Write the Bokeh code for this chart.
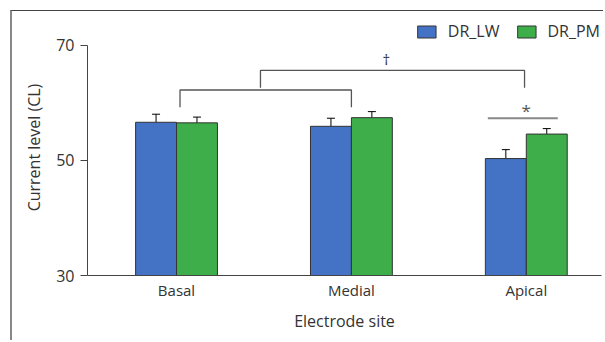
from bokeh.plotting import figure
from bokeh.models import (ColumnDataSource, Whisker, TeeHead, Legend, LegendItem,
                          FixedTicker, Range1d)
from bokeh.layouts import column
from bokeh.embed import file_html
from bokeh.resources import INLINE
from bokeh.core.properties import value

# ---- data ----
sites = ["Basal", "Medial", "Apical"]
series_names = ["DR_LW", "DR_PM"]
dr_lw = [56.6, 55.9, 50.3]
dr_lw_err = [1.4, 1.4, 1.55]
dr_pm = [56.5, 57.4, 54.55]
dr_pm_err = [1.0, 1.05, 0.95]
y_ticks = [30, 50, 70]

# significance annotations (data units)
bracket1_x = [0.02, 0.02, 1.0, 1.0]
bracket1_y = [59.2, 62.2, 62.2, 59.2]
bracket2_x = [0.48, 0.48, 1.99, 1.99]
bracket2_y = [62.6, 65.6, 65.6, 62.6]
star_line_x = [1.78, 2.18]
star_line_y = [57.3, 57.3]
dagger_pos = (1.2, 67.5)
star_pos = (2.0, 58.6)

FONT = "Open Sans"
TXT = "#333333"
BLUE = "#4472C4"
GREEN = "#3DAE4A"

xs = list(range(len(sites)))
bw = 0.234
x_lw = [x - bw / 2 for x in xs]
x_pm = [x + bw / 2 for x in xs]

src_lw = ColumnDataSource(dict(x=x_lw, top=dr_lw,
                               lo=[v - e for v, e in zip(dr_lw, dr_lw_err)],
                               hi=[v + e for v, e in zip(dr_lw, dr_lw_err)]))
src_pm = ColumnDataSource(dict(x=x_pm, top=dr_pm,
                               lo=[v - e for v, e in zip(dr_pm, dr_pm_err)],
                               hi=[v + e for v, e in zip(dr_pm, dr_pm_err)]))

p = figure(width=591, height=329, output_backend="svg", toolbar_location=None,
           x_range=Range1d(-0.509, 2.43), y_range=Range1d(30, 74.44),
           min_border_left=75, min_border_right=2, min_border_top=8,
           min_border_bottom=65)
p.outline_line_color = None
p.xgrid.grid_line_color = None
p.ygrid.grid_line_color = None
p.background_fill_color = "white"
p.border_fill_color = "white"

r_lw = p.vbar(x="x", top="top", bottom=30, width=bw, source=src_lw,
              fill_color=BLUE, line_color="#333333", line_width=1)
r_pm = p.vbar(x="x", top="top", bottom=30, width=bw, source=src_pm,
              fill_color=GREEN, line_color="#333333", line_width=1)

for src in (src_lw, src_pm):
    w = Whisker(source=src, base="x", lower="lo", upper="hi",
                line_color="black", line_width=1,
                upper_head=TeeHead(size=8, line_color="black", line_width=1),
                lower_head=TeeHead(size=8, line_color="black", line_width=1))
    p.add_layout(w)

# brackets
p.line(bracket1_x, bracket1_y, line_color="#555555", line_width=1.3)
p.line(bracket2_x, bracket2_y, line_color="#555555", line_width=1.3)
p.line(star_line_x, star_line_y, line_color="#888888", line_width=2)
p.text(x=[dagger_pos[0]], y=[dagger_pos[1]], text=["\u2020"], text_font=value(FONT),
       text_font_size="15px", text_color=TXT, text_align="center",
       text_baseline="middle")
p.text(x=[star_pos[0]], y=[star_pos[1]], text=["*"], text_font=value(FONT),
       text_font_size="17px", text_color="#555555", text_align="center",
       text_baseline="middle")

# axes
p.yaxis.ticker = FixedTicker(ticks=y_ticks)
p.yaxis.bounds = (30, 70)
p.yaxis.axis_label = "Current level (CL)"
p.yaxis.minor_tick_line_color = None
p.yaxis.major_tick_out = 7
p.yaxis.major_tick_in = 0
p.yaxis.major_label_standoff = 6
p.yaxis.axis_label_standoff = 8

p.xaxis.ticker = FixedTicker(ticks=xs)
p.xaxis.major_label_overrides = {i: s for i, s in enumerate(sites)}
p.xaxis.axis_label = "Electrode site"
p.xaxis.major_tick_line_color = None
p.xaxis.minor_tick_line_color = None
p.xaxis.major_tick_out = 0
p.xaxis.major_tick_in = 0
p.xaxis.major_label_standoff = 4
p.xaxis.axis_label_standoff = 7

for ax in (p.xaxis[0], p.yaxis[0]):
    ax.axis_line_color = "#444444"
    ax.axis_line_width = 1
    ax.major_label_text_font = FONT
    ax.major_label_text_color = TXT
    ax.major_label_text_font_size = "15px"
    ax.axis_label_text_font = FONT
    ax.axis_label_text_color = TXT
    ax.axis_label_text_font_size = "16px"
    ax.axis_label_text_font_style = "normal"
p.yaxis.major_tick_line_color = "#444444"
p.yaxis.major_label_text_font_size = "16px"

legend = Legend(items=[LegendItem(label=series_names[0], renderers=[r_lw]),
                       LegendItem(label=series_names[1], renderers=[r_pm])],
                orientation="horizontal", location="top_right",
                border_line_color=None, background_fill_alpha=0,
                glyph_width=23, glyph_height=15, label_standoff=10,
                spacing=15, padding=2, margin=1,
                label_text_font=FONT, label_text_font_size="16px",
                label_text_color=TXT)
p.add_layout(legend)

layout = column(p, styles={"border-left": "2px solid #888888",
                           "border-top": "1px solid #444444"},
                margin=(10, 0, 0, 10))

open("out.html", "w").write(file_html(layout, INLINE))
